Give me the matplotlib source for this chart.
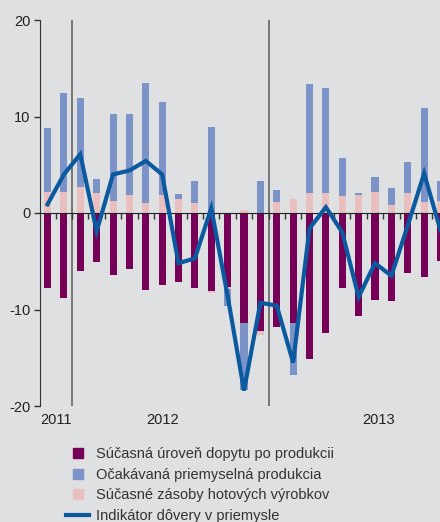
import matplotlib.pyplot as plt
import numpy as np
from matplotlib.lines import Line2D

plt.rcParams['font.family'] = ['Liberation Sans', 'DejaVu Sans']
plt.rcParams['axes.unicode_minus'] = False

# Monthly data, Nov 2011 .. Nov 2013
months = list(range(25))
demand = [-7.8, -8.8, -6.0, -5.1, -6.4, -5.8, -8.0, -7.5, -7.2, -7.8, -8.1, -7.7, -11.35,
          -12.2, -11.8, -11.45, -15.1, -12.4, -7.8, -10.7, -9.0, -9.1, -6.2, -6.6, -5.0]
stocks = [2.2, 2.2, 2.7, 2.1, 1.2, 1.9, 1.0, 1.9, 1.4, 1.0, -0.2, -0.15, 0.35,
          -0.45, 1.1, 1.4, 2.1, 2.1, 1.8, 1.9, 2.2, 0.8, 2.1, 1.1, 1.2]
expected = [6.6, 10.2, 9.2, 1.45, 9.1, 8.4, 12.5, 9.6, 0.6, 2.3, 8.9, -1.8, -7.0,
            3.35, 1.3, -5.35, 11.3, 10.85, 3.9, 0.2, 1.55, 1.75, 3.2, 9.8, 2.15]
confidence = [0.9, 4.0, 6.1, -1.9, 4.0, 4.4, 5.4, 4.0, -5.2, -4.7, 0.5, -8.6, -18.4,
              -9.3, -9.6, -15.5, -1.6, 0.6, -2.0, -8.7, -5.2, -6.5, -1.3, 4.1, -1.8]
years = ['2011', '2012', '2013']
year_pos = [0.5, 7.0, 20.2]
year_breaks = [1.5, 13.5]

labels = ['Súčasná úroveň dopytu po produkcii',
          'Očakávaná priemyselná produkcia',
          'Súčasné zásoby hotových výrobkov',
          'Indikátor dôvery v priemysle']
c_demand = '#760058'
c_expected = '#7c93c7'
c_stocks = '#e9bfbf'
c_line = '#0b5aa0'
bg = '#dfe0e2'

fig = plt.figure(figsize=(4.4, 5.22), dpi=100, facecolor=bg)
ax = fig.add_axes([40 / 440, 1 - 406 / 522, 1 - 40 / 440, 386 / 522])
ax.set_facecolor(bg)

x = np.array(months)
w = 0.43
pos = np.zeros(len(x))
neg = np.zeros(len(x))
for vals, col in [(demand, c_demand), (stocks, c_stocks), (expected, c_expected)]:
    v = np.array(vals)
    bottom = np.where(v >= 0, pos, neg)
    ax.bar(x, v, w, bottom=bottom, color=col, zorder=2)
    pos = pos + np.where(v >= 0, v, 0)
    neg = neg + np.where(v < 0, v, 0)

ax.plot(x, confidence, color=c_line, lw=3.0, zorder=4, solid_joinstyle='miter')

for b in year_breaks:
    ax.axvline(b, color='#767676', lw=1.4, zorder=1)

ax.set_xlim(-0.46, 23.97)
ax.set_ylim(-20, 20)
ax.set_yticks([-20, -10, 0, 10, 20])
ax.tick_params(axis='y', direction='out', length=4, width=1, color='#333333',
               labelsize=10.5, labelcolor='#222222', pad=3)

for s in ['top', 'right']:
    ax.spines[s].set_visible(False)
ax.spines['left'].set_color('#333333')
ax.spines['bottom'].set_position(('data', 0))
ax.spines['bottom'].set_color('#222222')
ax.spines['bottom'].set_zorder(3)
ax.set_xticks(np.arange(0.5, 24, 1))
ax.set_xticklabels([])
ax.tick_params(axis='x', direction='out', length=4, width=1, color='#333333')

for yr, p in zip(years, year_pos):
    ax.text(p, -21.4, yr, ha='center', va='center', fontsize=10.5, color='#222222')

handles = [Line2D([], [], marker='s', ls='none', ms=7.5, color=c_demand),
           Line2D([], [], marker='s', ls='none', ms=7.5, color=c_expected),
           Line2D([], [], marker='s', ls='none', ms=7.5, color=c_stocks),
           Line2D([], [], color=c_line, lw=3)]
fig.legend(handles, labels, loc='upper left', bbox_to_anchor=(53 / 440, 1 - 434 / 522),
           frameon=False, fontsize=10.5, handlelength=1.6, handletextpad=0.45,
           labelspacing=0.45, labelcolor='#333333')

fig.savefig('out.png', dpi=100, facecolor=bg)
